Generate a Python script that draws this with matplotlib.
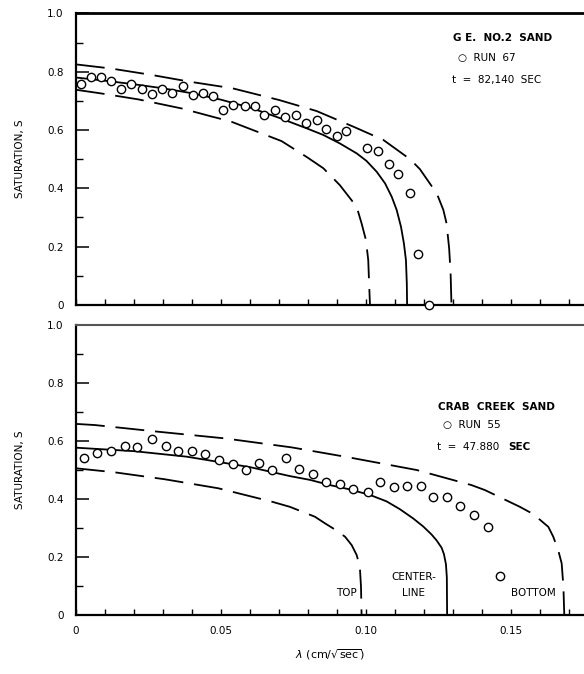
import matplotlib
matplotlib.use("Agg")
import matplotlib.pyplot as plt
import numpy as np

plt.rcParams['font.family'] = ['DejaVu Sans']

# ---------------- data: G.E. No. 2 sand (upper panel) ----------------
ge_run_x = [0.0016, 0.0052, 0.0085, 0.0122, 0.0155, 0.0191, 0.0228, 0.0262, 0.0298,
            0.0332, 0.0368, 0.0403, 0.0437, 0.0473, 0.0507, 0.0541, 0.0582, 0.0616,
            0.0647, 0.0686, 0.0722, 0.0759, 0.0793, 0.0831, 0.0863, 0.0901, 0.0933,
            0.1004, 0.1040, 0.1078, 0.1111, 0.1152, 0.1180, 0.1218]
ge_run_s = [0.758, 0.781, 0.781, 0.768, 0.742, 0.757, 0.739, 0.724, 0.741,
            0.728, 0.750, 0.720, 0.726, 0.716, 0.668, 0.686, 0.683, 0.683,
            0.651, 0.667, 0.643, 0.651, 0.623, 0.635, 0.603, 0.579, 0.598,
            0.537, 0.529, 0.483, 0.449, 0.385, 0.175, 0.0]

ge_center_x = [0, 0.01, 0.02, 0.03, 0.04, 0.05, 0.06, 0.07, 0.0795, 0.0853, 0.0910,
               0.0968, 0.1002, 0.1037, 0.1066, 0.1089, 0.1106, 0.1121, 0.1131, 0.1138,
               0.1141, 0.1142]
ge_center_s = [0.78, 0.769, 0.757, 0.743, 0.726, 0.704, 0.677, 0.642, 0.606, 0.583, 0.554,
               0.520, 0.494, 0.457, 0.417, 0.371, 0.326, 0.268, 0.211, 0.154,
               0.074, 0.0]

ge_bottom_x = [0, 0.012, 0.026, 0.039, 0.054, 0.070, 0.083, 0.096, 0.106, 0.1152,
               0.1186, 0.1232, 0.1249, 0.1267, 0.1278, 0.1287, 0.1292, 0.1295]
ge_bottom_s = [0.825, 0.811, 0.789, 0.766, 0.743, 0.703, 0.665, 0.610, 0.566, 0.500,
               0.466, 0.400, 0.371, 0.326, 0.28, 0.194, 0.109, 0.0]

ge_top_x = [0, 0.0083, 0.0215, 0.0364, 0.0537, 0.0709, 0.0795, 0.0853, 0.0910,
            0.0968, 0.0985, 0.1000, 0.1008, 0.1011, 0.1014]
ge_top_s = [0.738, 0.726, 0.705, 0.674, 0.628, 0.562, 0.508, 0.469, 0.411,
            0.337, 0.28, 0.223, 0.154, 0.074, 0.0]

# ---------------- data: Crab Creek sand (lower panel) ----------------
cc_run_x = [0.0028, 0.0071, 0.0122, 0.0169, 0.0211, 0.0261, 0.0310, 0.0353, 0.0399,
            0.0445, 0.0494, 0.0543, 0.0586, 0.0632, 0.0675, 0.0724, 0.0768, 0.0816,
            0.0862, 0.0910, 0.0956, 0.1006, 0.1048, 0.1097, 0.1143, 0.1190, 0.1232,
            0.1278, 0.1326, 0.1372, 0.1422, 0.1464]
cc_run_s = [0.540, 0.560, 0.566, 0.584, 0.578, 0.607, 0.583, 0.564, 0.566,
            0.555, 0.533, 0.521, 0.500, 0.525, 0.500, 0.540, 0.503, 0.486,
            0.460, 0.452, 0.433, 0.425, 0.458, 0.440, 0.446, 0.446, 0.406,
            0.406, 0.376, 0.345, 0.303, 0.134]

cc_center_x = [0, 0.02, 0.0382, 0.06, 0.0738, 0.0807, 0.0876, 0.0945, 0.1014, 0.1071,
               0.1117, 0.1163, 0.1198, 0.1226, 0.1244, 0.1261, 0.1269, 0.1276, 0.1279,
               0.1280]
cc_center_s = [0.577, 0.565, 0.546, 0.510, 0.479, 0.466, 0.448, 0.433, 0.414, 0.392,
               0.365, 0.333, 0.305, 0.278, 0.257, 0.232, 0.210, 0.175, 0.130,
               0.0]

cc_bottom_x = [0, 0.0066, 0.0284, 0.0514, 0.0744, 0.0939, 0.1175, 0.1364, 0.1410,
               0.1531, 0.1577, 0.1629, 0.1646, 0.1663, 0.1675, 0.1681, 0.1684]
cc_bottom_s = [0.659, 0.655, 0.632, 0.609, 0.578, 0.544, 0.500, 0.448, 0.431,
               0.373, 0.348, 0.304, 0.270, 0.224, 0.178, 0.098, 0.0]

cc_top_x = [0, 0.0134, 0.0307, 0.0491, 0.0675, 0.0738, 0.0824, 0.0859, 0.0893,
            0.0928, 0.0951, 0.0968, 0.0979, 0.0983, 0.0985]
cc_top_s = [0.506, 0.492, 0.468, 0.437, 0.391, 0.373, 0.339, 0.316, 0.295,
            0.270, 0.241, 0.207, 0.167, 0.098, 0.0]

x_tick_vals = [0, 0.05, 0.10, 0.15]
x_tick_labels = ['0', '0.05', '0.10', '0.15']
y_tick_vals = [0, 0.2, 0.4, 0.6, 0.8, 1.0]
y_tick_labels = ['0', '0.2', '0.4', '0.6', '0.8', '1.0']

XMAX = 0.1752
DASH = (0, (16, 6))
FS = 7.5

fig = plt.figure(figsize=(5.84, 6.74), dpi=100)
ax1 = fig.add_axes([0.130, 0.5475, 0.87, 0.4327])
ax2 = fig.add_axes([0.130, 0.0875, 0.87, 0.4303])


def style(ax, show_xlabels):
    ax.set_xlim(0, XMAX)
    ax.set_ylim(0, 1.0)
    ax.spines['right'].set_visible(False)
    for s in ['left', 'bottom']:
        ax.spines[s].set_linewidth(1.6)
    ax.set_xticks(x_tick_vals)
    ax.set_xticks(np.arange(0, XMAX, 0.01), minor=True)
    if show_xlabels:
        ax.set_xticklabels(x_tick_labels)
    else:
        ax.set_xticklabels([])
    ax.set_yticks(y_tick_vals)
    ax.set_yticklabels(y_tick_labels)
    ax.set_yticks(np.arange(0.1, 1.0, 0.2), minor=True)
    ax.tick_params(axis='x', which='both', direction='in', length=4, width=1,
                   labelsize=FS, pad=8)
    ax.tick_params(axis='y', which='major', direction='in', length=9, width=1.1,
                   labelsize=FS, pad=9)
    ax.tick_params(axis='y', which='minor', direction='in', length=5, width=1)
    ax.set_ylabel('SATURATION, S', fontsize=FS)
    ax.yaxis.set_label_coords(-0.10, 0.5)


def curves(ax, cx, cs, bx, bs, tx, ts, rx, rs):
    ax.plot(cx, cs, color='black', lw=1.3, solid_joinstyle='round')
    ax.plot(bx, bs, color='black', lw=1.3, linestyle=DASH)
    ax.plot(tx, ts, color='black', lw=1.3, linestyle=DASH)
    ax.plot(rx, rs, linestyle='none', marker='o', markersize=6,
            markerfacecolor='white', markeredgecolor='black', markeredgewidth=1.0,
            clip_on=False, zorder=5)


# upper panel
style(ax1, False)
ax1.spines['top'].set_linewidth(2.0)
curves(ax1, ge_center_x, ge_center_s, ge_bottom_x, ge_bottom_s,
       ge_top_x, ge_top_s, ge_run_x, ge_run_s)
ax1.text(0.1300, 0.915, 'G E.  NO.2  SAND', fontsize=FS, fontweight='bold', va='center')
ax1.text(0.1317, 0.847, '\u25CB  RUN  67', fontsize=FS, va='center')
ax1.text(0.1297, 0.771, 't  =  82,140  SEC', fontsize=FS, va='center')

# lower panel
style(ax2, True)
ax2.spines['top'].set_linewidth(1.5)
ax2.spines['top'].set_color('#555555')
curves(ax2, cc_center_x, cc_center_s, cc_bottom_x, cc_bottom_s,
       cc_top_x, cc_top_s, cc_run_x, cc_run_s)
ax2.text(0.1248, 0.717, 'CRAB  CREEK  SAND', fontsize=FS, fontweight='bold', va='center')
ax2.text(0.1266, 0.655, '\u25CB  RUN  55', fontsize=FS, va='center')
ax2.text(0.1245, 0.579, 't  =  47.880  ', fontsize=FS, va='center')
ax2.text(0.1245 + 0.0245, 0.579, 'SEC', fontsize=FS, fontweight='bold', va='center')
ax2.text(0.0969, 0.076, 'TOP', fontsize=FS, ha='right', va='center')
ax2.text(0.1164, 0.131, 'CENTER-', fontsize=FS, ha='center', va='center')
ax2.text(0.1164, 0.076, 'LINE', fontsize=FS, ha='center', va='center')
ax2.text(0.1576, 0.076, 'BOTTOM', fontsize=FS, ha='center', va='center')

ax2.set_xlabel(r'$\lambda\ \left(\mathrm{cm}/\sqrt{\mathrm{sec}}\right)$', fontsize=FS + 0.5)
ax2.xaxis.set_label_coords(0.5, -0.11)

fig.savefig('out.png', dpi=100)
